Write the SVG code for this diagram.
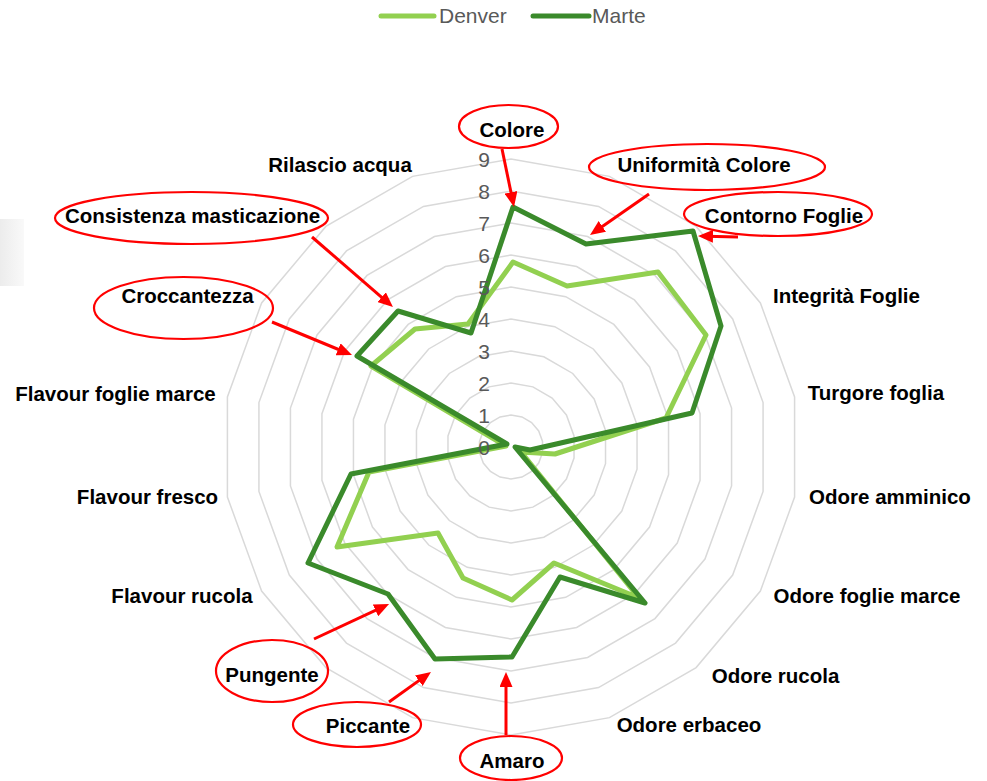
<svg xmlns="http://www.w3.org/2000/svg" xmlns:xlink="http://www.w3.org/1999/xlink" width="987" height="781" viewBox="0 0 987 781">
<style>
.grid{fill:none;stroke:#d9d9d9;stroke-width:1.5}
.num{font-family:"Liberation Sans",Arial,sans-serif;font-size:21px;fill:#595959;text-anchor:end}
.lbl{font-family:"Liberation Sans",Arial,sans-serif;font-size:20.5px;font-weight:bold;fill:#000;text-anchor:middle}
.leg{font-family:"Liberation Sans",Arial,sans-serif;font-size:21px;fill:#595959}
.ring{fill:none;stroke:#ff0000;stroke-width:2.2}
.arr{fill:none;stroke:#ff0000;stroke-width:3}
.denver{fill:none;stroke:#92d050;stroke-width:5;stroke-linejoin:round;stroke-linecap:round}
.marte{fill:none;stroke:#3a8a2b;stroke-width:5;stroke-linejoin:round;stroke-linecap:round}
</style>
<defs>
<polygon id="ringShape" vector-effect="non-scaling-stroke" points="0,-32 10.94,-30.07 20.57,-24.51 27.71,-16 31.51,-5.56 31.51,5.56 27.71,16 20.57,24.51 10.94,30.07 0,32 -10.94,30.07 -20.57,24.51 -27.71,16 -31.51,5.56 -31.51,-5.56 -27.71,-16 -20.57,-24.51 -10.94,-30.07"/>
<marker id="ah" markerUnits="userSpaceOnUse" viewBox="0 0 15 13" refX="7" refY="6.5" markerWidth="15" markerHeight="13" orient="auto">
<path d="M0,0 L15,6.5 L0,13 z" fill="#ff0000"/>
</marker>
<linearGradient id="shade" x1="0" y1="0" x2="1" y2="0">
<stop offset="0" stop-color="#ececec"/>
<stop offset="1" stop-color="#f9f9f9"/>
</linearGradient>
</defs>
<rect width="987" height="781" fill="#ffffff"/>
<rect x="0" y="219" width="24" height="67" fill="url(#shade)"/>

<g id="legend">
<line x1="381" y1="16" x2="434" y2="16" stroke="#92d050" stroke-width="5" stroke-linecap="round"/>
<text class="leg" x="439" y="23">Denver</text>
<line x1="533" y1="16" x2="589" y2="16" stroke="#3a8a2b" stroke-width="5" stroke-linecap="round"/>
<text class="leg" x="592" y="23">Marte</text>
</g>

<g id="gridlines" class="grid">
<use href="#ringShape" transform="translate(511 447) scale(1)"/>
<use href="#ringShape" transform="translate(511 447) scale(2)"/>
<use href="#ringShape" transform="translate(511 447) scale(3)"/>
<use href="#ringShape" transform="translate(511 447) scale(4)"/>
<use href="#ringShape" transform="translate(511 447) scale(5)"/>
<use href="#ringShape" transform="translate(511 447) scale(6)"/>
<use href="#ringShape" transform="translate(511 447) scale(7)"/>
<use href="#ringShape" transform="translate(511 447) scale(8)"/>
<use href="#ringShape" transform="translate(511 447) scale(9)"/>
</g>

<g id="series">
<polygon id="denver" class="denver" points="513,262 567,286 658,272 706,335 666,418 555,454 521,452 639,598 554,563 512,600 463,578 438,533 337,547 369,472 506,446 371,366 415,329 468,324"/>
<polygon id="marte" class="marte" points="513,207 586,244 693,231 721,326 692,413 530,450 515,447 645,603 560,577 512,657 435,659 388,594 308,563 351,474 507,444 357,356 398,311 471,333"/>
</g>

<g id="axis-numbers">
<text class="num" x="490" y="455">0</text>
<text class="num" x="490" y="423">1</text>
<text class="num" x="490" y="391">2</text>
<text class="num" x="490" y="359">3</text>
<text class="num" x="490" y="327">4</text>
<text class="num" x="490" y="295">5</text>
<text class="num" x="490" y="263">6</text>
<text class="num" x="490" y="231">7</text>
<text class="num" x="490" y="199">8</text>
<text class="num" x="490" y="167">9</text>
</g>

<g id="n-colore"><ellipse class="ring" cx="508.5" cy="126.5" rx="49.5" ry="21.5"/><text class="lbl" x="512" y="137">Colore</text></g>
<g id="n-uniformita"><ellipse class="ring" cx="707" cy="167" rx="118" ry="23"/><text class="lbl" x="704" y="172">Uniformità Colore</text></g>
<g id="n-contorno"><ellipse class="ring" cx="778" cy="214" rx="94" ry="22"/><text class="lbl" x="784" y="223">Contorno Foglie</text></g>
<g id="n-integrita"><text class="lbl" x="846.5" y="303">Integrità Foglie</text></g>
<g id="n-turgore"><text class="lbl" x="876" y="400">Turgore foglia</text></g>
<g id="n-amminico"><text class="lbl" x="890" y="504">Odore amminico</text></g>
<g id="n-fogliemarce"><text class="lbl" x="867" y="603">Odore foglie marce</text></g>
<g id="n-odorerucola"><text class="lbl" x="775.5" y="683">Odore rucola</text></g>
<g id="n-erbaceo"><text class="lbl" x="689" y="732">Odore erbaceo</text></g>
<g id="n-amaro"><ellipse class="ring" cx="511" cy="758" rx="51" ry="22"/><text class="lbl" x="512" y="768">Amaro</text></g>
<g id="n-piccante"><ellipse class="ring" cx="357" cy="724.5" rx="64" ry="22.5"/><text class="lbl" x="368" y="733">Piccante</text></g>
<g id="n-pungente"><ellipse class="ring" cx="272" cy="671" rx="56" ry="31"/><text class="lbl" x="272" y="682">Pungente</text></g>
<g id="n-flavourrucola"><text class="lbl" x="182" y="603">Flavour rucola</text></g>
<g id="n-flavourfresco"><text class="lbl" x="147.5" y="504">Flavour fresco</text></g>
<g id="n-flavourfogliemarce"><text class="lbl" x="115.5" y="401">Flavour foglie marce</text></g>
<g id="n-croccantezza"><ellipse class="ring" cx="183.5" cy="308" rx="89.5" ry="31"/><text class="lbl" x="187.5" y="303">Croccantezza</text></g>
<g id="n-consistenza"><ellipse class="ring" cx="191.5" cy="218" rx="136.5" ry="26"/><text class="lbl" x="192.5" y="223">Consistenza masticazione</text></g>
<g id="n-rilascio"><text class="lbl" x="340" y="172">Rilascio acqua</text></g>

<g id="connectors" class="arr">
<line x1="502" y1="149" x2="512.4" y2="199.2" marker-end="url(#ah)"/>
<line x1="649" y1="194" x2="596.6" y2="230.4" marker-end="url(#ah)"/>
<line x1="738" y1="237" x2="706" y2="236.2" marker-end="url(#ah)"/>
<line x1="312" y1="237" x2="386.9" y2="301.8" marker-end="url(#ah)"/>
<line x1="272" y1="322" x2="344.6" y2="352" marker-end="url(#ah)"/>
<line x1="314" y1="639" x2="381.8" y2="607.4" marker-end="url(#ah)"/>
<line x1="389" y1="702" x2="424.5" y2="676.6" marker-end="url(#ah)"/>
<line x1="506" y1="735" x2="506" y2="680" marker-end="url(#ah)"/>
</g>
</svg>
